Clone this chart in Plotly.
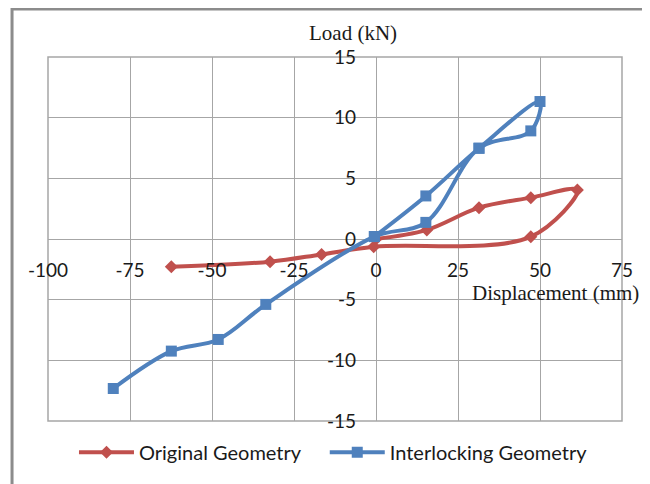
import plotly.graph_objects as go

# Data
orig_x = [0.0, 15.5, 31.4, 47.2, 61.4, 47.2, -0.7, -16.6, -32.3, -62.4]
orig_y = [0.0, 0.75, 2.58, 3.41, 4.04, 0.19, -0.64, -1.27, -1.87, -2.29]

inter_x = [-0.5, 15.2, 31.4, 50.0, 47.2, 31.4, 15.2, -0.5, -33.6, -48.1, -62.4, -80.1]
inter_y = [0.2, 3.55, 7.48, 11.33, 8.91, 7.48, 1.37, 0.2, -5.39, -8.28, -9.24, -12.32]

x_ticks = [-100, -75, -50, -25, 0, 25, 50, 75]
y_ticks = [-15, -10, -5, 0, 5, 10, 15]

RED = "#C0504D"
BLUE = "#4F81BD"
GRID = "#a6a6a6"
TICKFONT = dict(family="Lato", size=19, color="#1a1a1a")
LEGFONT = dict(family="Lato", size=20, color="#1a1a1a")

fig = go.Figure()
fig.add_trace(go.Scatter(
    x=orig_x, y=orig_y, name="Original Geometry", mode="lines+markers",
    line=dict(color=RED, width=4, shape="spline", smoothing=1.0),
    marker=dict(symbol="diamond", size=10, color=RED),
    legend="legend",
))
fig.add_trace(go.Scatter(
    x=inter_x, y=inter_y, name="Interlocking Geometry", mode="lines+markers",
    line=dict(color=BLUE, width=4, shape="spline", smoothing=1.0),
    marker=dict(symbol="square", size=11, color=BLUE),
    legend="legend2",
))

# page has an 8px body margin: figure is 642x476, drawn at offset (8, 8)
OFF = 8
W, H = 642, 476
L, R, T, B = 48 - OFF, 27.5, 57.3 - OFF, 63.3
pw, ph = W - L - R, H - T - B


def px_x(page_x):
    return (page_x - OFF - L) / pw


def px_y(page_y):
    return (H - B - (page_y - OFF)) / ph


fig.update_layout(
    width=W, height=H,
    margin=dict(l=L, r=R, t=T, b=B, autoexpand=False),
    paper_bgcolor="white", plot_bgcolor="white",
    showlegend=True,
    legend=dict(orientation="h", x=px_x(74), xanchor="left", y=px_y(452), yanchor="middle",
                font=LEGFONT, itemwidth=55, bgcolor="rgba(0,0,0,0)"),
    legend2=dict(orientation="h", x=px_x(325), xanchor="left", y=px_y(452), yanchor="middle",
                 font=LEGFONT, itemwidth=55, bgcolor="rgba(0,0,0,0)"),
    xaxis=dict(range=[-100, 75], tickvals=x_ticks, ticktext=[str(v) for v in x_ticks],
               anchor="free", position=0.5, showgrid=True, gridcolor=GRID, gridwidth=1,
               zeroline=True, zerolinecolor=GRID, zerolinewidth=1, automargin=False,
               showline=False, ticks="", ticklabelstandoff=18, tickfont=TICKFONT),
    yaxis=dict(range=[-15, 15], tickvals=y_ticks, ticktext=[str(v) for v in y_ticks],
               anchor="free", position=100/175, showgrid=True, gridcolor=GRID, gridwidth=1,
               zeroline=True, zerolinecolor=GRID, zerolinewidth=1, automargin=False,
               showline=False, ticks="", ticklabelstandoff=20, tickfont=TICKFONT),
)

# plot-area border
fig.add_shape(type="rect", xref="paper", yref="paper", x0=0, x1=1, y0=0, y1=1,
              line=dict(color=GRID, width=1.5), layer="below")
# outer chart border
fig.add_shape(type="rect", xref="paper", yref="paper",
              x0=px_x(12), x1=px_x(645), y0=px_y(520), y1=px_y(9.5),
              line=dict(color="#8c8c8c", width=3))

fig.add_annotation(text="Load (kN)", xref="paper", yref="paper",
                   x=px_x(353), y=px_y(33), showarrow=False,
                   xanchor="center", yanchor="middle",
                   font=dict(family="Liberation Serif", size=21, color="#1a1a1a"))
fig.add_annotation(text="Displacement (mm)", xref="paper", yref="paper",
                   x=px_x(642), y=px_y(293), showarrow=False,
                   xanchor="right", yanchor="middle",
                   font=dict(family="Liberation Serif", size=21, color="#1a1a1a"))

fig.write_html("out.html")
